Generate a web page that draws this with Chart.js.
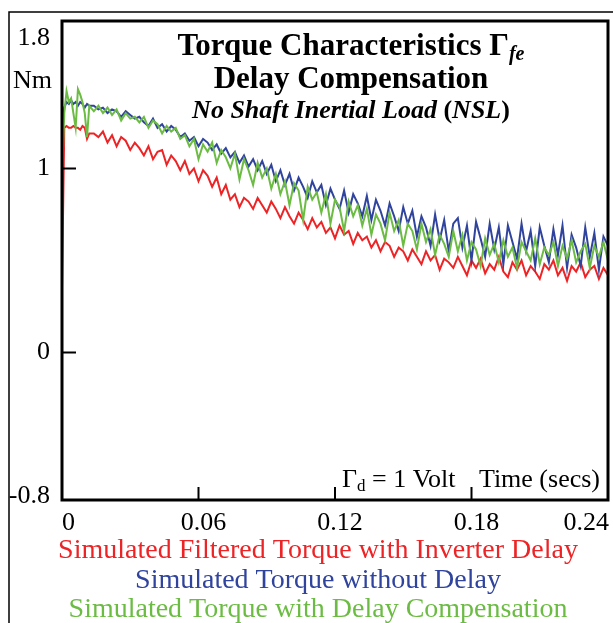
<!DOCTYPE html>
<html>
<head>
<meta charset="utf-8">
<script src="https://cdn.jsdelivr.net/npm/chart.js@4.4.0/dist/chart.umd.min.js"></script>
<style>
  html, body { margin: 0; padding: 0; background: #fff; }
  #wrap { width: 613px; height: 623px; }
</style>
</head>
<body>
<div id="wrap"><canvas id="torque-chart" width="613" height="623"></canvas></div>
<script>
// time (secs)
const times = [
  0, 0.001, 0.002, 0.003, 0.004, 0.005, 0.006, 0.007, 0.008, 0.009, 0.010, 0.011, 0.012,
  0.014, 0.016, 0.018, 0.020, 0.022, 0.024, 0.026, 0.028, 0.030, 0.032,
  0.034, 0.036, 0.038, 0.040, 0.042, 0.044, 0.046, 0.048, 0.050, 0.052,
  0.054, 0.056, 0.058, 0.060, 0.062, 0.064, 0.066, 0.068, 0.070, 0.072,
  0.074, 0.076, 0.078, 0.080, 0.082, 0.084, 0.086, 0.088, 0.090, 0.092,
  0.094, 0.096, 0.098, 0.100, 0.102, 0.104, 0.106, 0.108, 0.110, 0.112,
  0.114, 0.116, 0.118, 0.120, 0.122, 0.124, 0.126, 0.128, 0.130, 0.132,
  0.134, 0.136, 0.138, 0.140, 0.142, 0.144, 0.146, 0.148, 0.150, 0.152,
  0.154, 0.156, 0.158, 0.160, 0.162, 0.164, 0.166, 0.168, 0.170, 0.172,
  0.174, 0.176, 0.178, 0.180, 0.182, 0.184, 0.186, 0.188, 0.190, 0.192,
  0.194, 0.196, 0.198, 0.200, 0.202, 0.204, 0.206, 0.208, 0.210, 0.212,
  0.214, 0.216, 0.218, 0.220, 0.222, 0.224, 0.226, 0.228, 0.230, 0.232,
  0.234, 0.236, 0.238, 0.240
];

// torque (Nm)
const filteredDelay = [
  0.35, 1.22, 1.23, 1.22, 1.22, 1.23, 1.22, 1.22, 1.21, 1.23, 1.22, 1.16, 1.19,
  1.19, 1.17, 1.20, 1.14, 1.18, 1.12, 1.17, 1.15, 1.10, 1.14,
  1.11, 1.07, 1.12, 1.05, 1.09, 1.10, 1.02, 1.07, 1.04, 0.99,
  1.04, 0.97, 1.00, 0.93, 0.99, 0.96, 0.90, 0.95, 0.86, 0.91,
  0.83, 0.86, 0.79, 0.84, 0.82, 0.78, 0.84, 0.80, 0.76, 0.82,
  0.78, 0.73, 0.79, 0.74, 0.70, 0.76, 0.72, 0.67, 0.73, 0.68,
  0.71, 0.65, 0.68, 0.62, 0.69, 0.64, 0.66, 0.59, 0.65, 0.61,
  0.63, 0.57, 0.61, 0.55, 0.60, 0.58, 0.52, 0.57, 0.55, 0.50,
  0.56, 0.52, 0.48, 0.55, 0.50, 0.53, 0.45, 0.51, 0.49, 0.46,
  0.52, 0.47, 0.42, 0.50, 0.46, 0.51, 0.43, 0.48, 0.45, 0.52,
  0.44, 0.41, 0.49, 0.45, 0.50, 0.42, 0.47, 0.44, 0.40, 0.48,
  0.45, 0.50, 0.42, 0.46, 0.39, 0.47, 0.44, 0.49, 0.41, 0.45,
  0.47, 0.40, 0.46, 0.42
];
const noDelay = [
  1.20, 1.33, 1.36, 1.35, 1.37, 1.35, 1.36, 1.34, 1.36, 1.35, 1.33, 1.35, 1.34,
  1.34, 1.32, 1.33, 1.30, 1.32, 1.31, 1.28, 1.31, 1.29, 1.27,
  1.28, 1.25, 1.23, 1.27, 1.22, 1.24, 1.20, 1.23, 1.21, 1.17,
  1.19, 1.15, 1.17, 1.12, 1.16, 1.14, 1.10, 1.13, 1.08, 1.11,
  1.06, 1.09, 1.03, 1.07, 1.01, 1.05, 0.99, 1.04, 0.97, 1.02,
  0.93, 0.99, 0.91, 0.97, 0.88, 0.95, 0.90, 0.84, 0.93, 0.87,
  0.91, 0.80, 0.89, 0.83, 0.78, 0.88, 0.76, 0.86, 0.81, 0.74,
  0.85, 0.72, 0.83, 0.77, 0.69, 0.81, 0.74, 0.66, 0.79, 0.70,
  0.77, 0.63, 0.74, 0.68, 0.58, 0.75, 0.61, 0.72, 0.55, 0.70,
  0.73, 0.57, 0.69, 0.50, 0.71, 0.62, 0.52, 0.70, 0.56, 0.68,
  0.48, 0.69, 0.60, 0.51, 0.70, 0.55, 0.66, 0.47, 0.68, 0.58,
  0.49, 0.67, 0.53, 0.69, 0.46, 0.64, 0.57, 0.47, 0.68, 0.52,
  0.65, 0.45, 0.63, 0.58
];
const delayComp = [
  0.95, 1.30, 1.42, 1.36, 1.38, 1.30, 1.22, 1.43, 1.40, 1.36, 1.30, 1.17, 1.34,
  1.31, 1.34, 1.30, 1.33, 1.29, 1.32, 1.26, 1.30, 1.27, 1.28,
  1.25, 1.28, 1.22, 1.26, 1.24, 1.19, 1.23, 1.20, 1.22, 1.16,
  1.18, 1.12, 1.16, 1.05, 1.13, 1.09, 1.14, 1.03, 1.10, 1.06,
  1.00, 1.08, 0.94, 1.05, 0.99, 0.91, 1.03, 0.95, 1.00, 0.89,
  0.97, 0.86, 0.93, 0.80, 0.92, 0.88, 0.72, 0.90, 0.83, 0.87,
  0.76, 0.86, 0.70, 0.83, 0.79, 0.66, 0.82, 0.74, 0.80, 0.69,
  0.78, 0.64, 0.75, 0.70, 0.61, 0.76, 0.66, 0.72, 0.58, 0.70,
  0.66, 0.56, 0.70, 0.60, 0.67, 0.53, 0.64, 0.59, 0.52, 0.66,
  0.55, 0.64, 0.50, 0.60, 0.56, 0.47, 0.62, 0.53, 0.59, 0.49,
  0.61, 0.52, 0.57, 0.46, 0.60, 0.55, 0.50, 0.62, 0.48, 0.57,
  0.53, 0.60, 0.47, 0.58, 0.51, 0.61, 0.49, 0.55, 0.59, 0.46,
  0.58, 0.52, 0.60, 0.50
];

const xTicks = [0, 0.06, 0.12, 0.18, 0.24];
const xTickLabels = ['0', '0.06', '0.12', '0.18', '0.24'];
const yTicks = [-0.8, 0, 1, 1.8];
const yTickLabels = ['-0.8', '0', '1', '1.8'];
const seriesNames = [
  'Simulated Filtered Torque with Inverter Delay',
  'Simulated Torque without Delay',
  'Simulated Torque with Delay Compensation'
];

const RED = 'rgb(237,36,38)';
const BLUE = 'rgb(48,68,158)';
const GREEN = 'rgb(108,188,68)';
const SERIF = '"Liberation Serif", "Times New Roman", serif';

function points(values) {
  return values.map((v, i) => ({ x: times[i], y: v }));
}

// draws a line of mixed-font text centred on cx
function drawRuns(ctx, runs, cx, baseline) {
  let total = 0;
  runs.forEach(r => { ctx.font = r.font; total += ctx.measureText(r.text).width; });
  let x = cx - total / 2;
  ctx.textAlign = 'left';
  ctx.textBaseline = 'alphabetic';
  runs.forEach(r => {
    ctx.font = r.font;
    ctx.fillText(r.text, x, baseline + (r.dy || 0));
    x += ctx.measureText(r.text).width;
  });
}

const decorations = {
  id: 'decorations',
  afterDraw(chart) {
    const { ctx, chartArea: a, scales: { x, y } } = chart;
    ctx.save();
    ctx.strokeStyle = '#000';
    ctx.fillStyle = '#000';

    // outer frame
    ctx.lineWidth = 1.5;
    ctx.strokeRect(9, 12, 700, 700);

    // plot frame
    ctx.lineWidth = 3;
    ctx.strokeRect(a.left, a.top, a.right - a.left, a.bottom - a.top);

    // inward ticks
    ctx.lineWidth = 2;
    ctx.beginPath();
    yTicks.forEach(v => {
      if (v <= y.min || v >= y.max) return;
      const py = y.getPixelForValue(v);
      ctx.moveTo(a.left, py);
      ctx.lineTo(a.left + 14, py);
    });
    xTicks.forEach(v => {
      if (v <= x.min || v >= x.max) return;
      const px = x.getPixelForValue(v);
      ctx.moveTo(px, a.bottom);
      ctx.lineTo(px, a.bottom - 13);
    });
    ctx.stroke();

    // y tick labels
    ctx.font = '26px ' + SERIF;
    ctx.textAlign = 'right';
    yTicks.forEach((v, i) => {
      const py = y.getPixelForValue(v);
      if (v === y.max) {
        ctx.textBaseline = 'alphabetic';
        ctx.fillText(yTickLabels[i], a.left - 12, py + 24);
      } else if (v === y.min) {
        ctx.textBaseline = 'alphabetic';
        ctx.fillText(yTickLabels[i], a.left - 12, py + 3);
      } else {
        ctx.textBaseline = 'middle';
        ctx.fillText(yTickLabels[i], a.left - 12, py);
      }
    });
    ctx.textBaseline = 'alphabetic';
    ctx.fillText('Nm', a.left - 10, 88);

    // x tick labels
    xTicks.forEach((v, i) => {
      const px = x.getPixelForValue(v);
      if (i === 0) { ctx.textAlign = 'left'; ctx.fillText(xTickLabels[i], px, a.bottom + 30); }
      else if (i === xTicks.length - 1) { ctx.textAlign = 'right'; ctx.fillText(xTickLabels[i], px + 1, a.bottom + 30); }
      else { ctx.textAlign = 'center'; ctx.fillText(xTickLabels[i], px + 5, a.bottom + 30); }
    });

    // annotations in the plot
    ctx.textAlign = 'right';
    ctx.fillText('Time (secs)', a.right - 8, a.bottom - 13);
    ctx.textAlign = 'left';
    let ax = 342;
    const ab = a.bottom - 13;
    ctx.font = '26px ' + SERIF;
    ctx.fillText('\u0393', ax, ab); ax += ctx.measureText('\u0393').width;
    ctx.font = '17px ' + SERIF;
    ctx.fillText('d', ax, ab + 4); ax += ctx.measureText('d').width;
    ctx.font = '26px ' + SERIF;
    ctx.fillText(' = 1 Volt', ax, ab);

    // title
    const cx = 351;
    drawRuns(ctx, [
      { text: 'Torque Characteristics \u0393', font: 'bold 31px ' + SERIF },
      { text: 'fe', font: 'bold italic 20px ' + SERIF, dy: 5 }
    ], cx, 55);
    drawRuns(ctx, [{ text: 'Delay Compensation', font: 'bold 31px ' + SERIF }], cx, 88);
    drawRuns(ctx, [
      { text: 'No Shaft Inertial Load ', font: 'bold italic 26px ' + SERIF },
      { text: '(', font: 'bold 26px ' + SERIF },
      { text: 'NSL', font: 'bold italic 26px ' + SERIF },
      { text: ')', font: 'bold 26px ' + SERIF }
    ], cx, 118);

    // series names under the axis
    const colors = [RED, BLUE, GREEN];
    const baselines = [558, 588, 617];
    seriesNames.forEach((name, i) => {
      ctx.fillStyle = colors[i];
      drawRuns(ctx, [{ text: name, font: '28px ' + SERIF }], 318, baselines[i]);
    });
    ctx.restore();
  }
};

const ctx = document.getElementById('torque-chart').getContext('2d');
new Chart(ctx, {
  type: 'line',
  data: {
    datasets: [
      { label: seriesNames[0], data: points(filteredDelay), borderColor: RED, order: 2 },
      { label: seriesNames[1], data: points(noDelay), borderColor: BLUE, order: 1 },
      { label: seriesNames[2], data: points(delayComp), borderColor: GREEN, order: 0 }
    ]
  },
  options: {
    responsive: false,
    animation: false,
    devicePixelRatio: 1,
    datasets: { line: { borderWidth: 2, pointRadius: 0, tension: 0, fill: false } },
    layout: { padding: { top: 21, right: 5, left: 0, bottom: 0 } },
    plugins: { legend: { display: false }, tooltip: { enabled: false } },
    scales: {
      x: {
        type: 'linear', min: 0, max: 0.24,
        grid: { display: false }, border: { display: false }, ticks: { display: false },
        afterFit(s) { s.height = 123; }
      },
      y: {
        type: 'linear', min: -0.8, max: 1.8,
        grid: { display: false }, border: { display: false }, ticks: { display: false },
        afterFit(s) { s.width = 62; }
      }
    }
  },
  plugins: [decorations]
});
</script>
</body>
</html>
